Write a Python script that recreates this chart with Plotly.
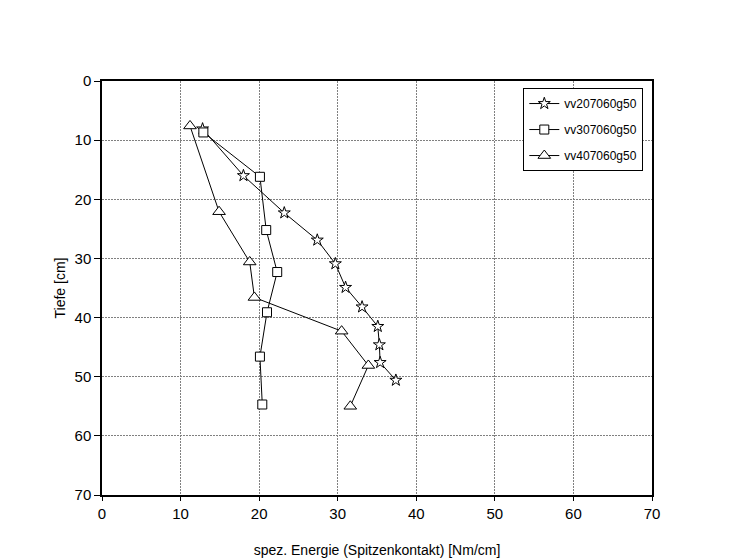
import plotly.graph_objects as go

# Penetration profiles: specific energy (tip contact) vs. depth
series_names = ["vv207060g50", "vv307060g50", "vv407060g50"]

energy_vv207 = [12.8, 18.0, 23.2, 27.4, 29.7, 31.0, 33.1, 35.1, 35.3, 35.4, 37.4]
depth_vv207 = [8.1, 16.0, 22.3, 26.9, 30.9, 34.9, 38.2, 41.5, 44.6, 47.6, 50.6]

energy_vv307 = [12.9, 20.1, 20.9, 22.3, 21.0, 20.1, 20.4]
depth_vv307 = [8.7, 16.2, 25.2, 32.3, 39.1, 46.6, 54.7]

energy_vv407 = [11.2, 14.9, 18.8, 19.4, 30.5, 33.9, 31.6]
depth_vv407 = [7.6, 22.1, 30.6, 36.6, 42.3, 48.1, 55.0]

tick_vals = [0, 10, 20, 30, 40, 50, 60, 70]

font_family = "Liberation Sans, Arial, sans-serif"

fig = go.Figure()

styles = [
    (energy_vv207, depth_vv207, "star", 9),
    (energy_vv307, depth_vv307, "square", 9),
    (energy_vv407, depth_vv407, "triangle-up", 11),
]
for name, (xs, ys, sym, size) in zip(series_names, styles):
    fig.add_trace(go.Scatter(
        x=xs, y=ys, name=name, legendgroup=name,
        mode="lines+markers",
        line=dict(color="black", width=1),
        marker=dict(symbol=sym, size=size, color="white",
                    line=dict(color="black", width=1)),
    ))

axis_common = dict(
    range=[0, 70], tickvals=tick_vals, showgrid=True,
    gridcolor="#808080", griddash="2px,1px", gridwidth=1,
    showline=True, linecolor="black", linewidth=1.5, mirror=True,
    ticks="outside", ticklen=6, tickcolor="black", tickwidth=1,
    zeroline=False, tickfont=dict(size=15, color="black"),
    automargin=False,
)

fig.update_layout(
    width=729, height=558,
    margin=dict(l=102, r=77, t=81, b=63),
    paper_bgcolor="white", plot_bgcolor="white",
    font=dict(family=font_family, color="black"),
    xaxis=dict(axis_common, ticklen=4,
               title=dict(text="spez. Energie (Spitzenkontakt) [Nm/cm]",
                          font=dict(size=14), standoff=24)),
    yaxis=dict(axis_common, autorange=False, range=[70, 0],
               title=dict(text="Tiefe [cm]", font=dict(size=14), standoff=6)),
    legend=dict(
        x=0.766, y=0.983, xanchor="left", yanchor="top",
        bgcolor="white", bordercolor="black", borderwidth=1,
        font=dict(size=12), tracegroupgap=7,
    ),
)

fig.write_html("out.html")
